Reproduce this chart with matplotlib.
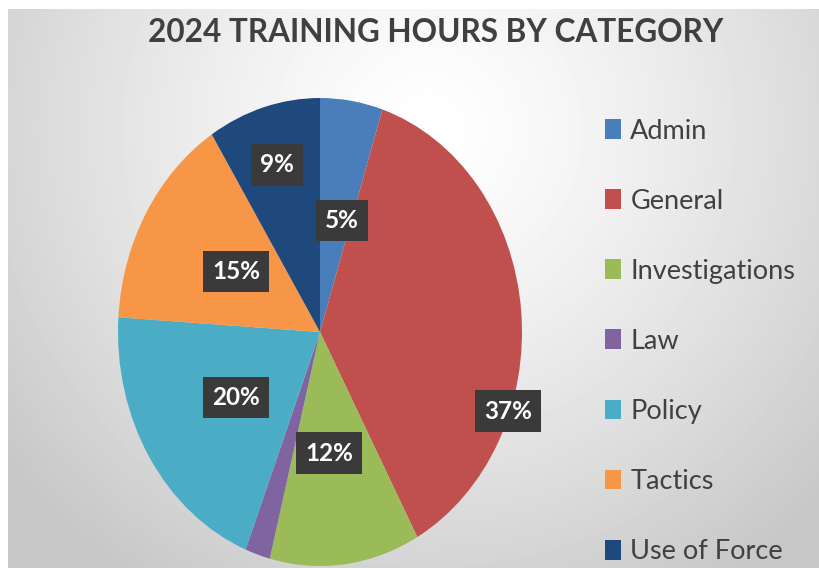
import numpy as np
import matplotlib
matplotlib.use("Agg")
import matplotlib.pyplot as plt
from matplotlib.patches import Patch

categories = ["Admin", "General", "Investigations", "Law", "Policy", "Tactics", "Use of Force"]
shares = [5, 37, 12, 2, 20, 15, 9]
colors = ["#4a7ebb", "#c0504d", "#9bbb59", "#8064a2", "#4bacc6", "#f79646", "#1f497d"]
title = "2024 TRAINING HOURS BY CATEGORY"

# label placement (radius, angle in degrees) in pie units, Excel "best fit" look
label_pos = {
    "Admin": (0.49, 77),
    "General": (0.99, -20),
    "Investigations": (0.52, 275),
    "Policy": (0.50, 214),
    "Tactics": (0.49, 148),
    "Use of Force": (0.745, 106.5),
}

FONT = ["Lato", "DejaVu Sans"]
W, H = 820, 568
fig = plt.figure(figsize=(W / 100, H / 100), dpi=100, facecolor="white")

# background gradient (white margin top/left)
bg = fig.add_axes([8 / W, 0, 1 - 8 / W, 1 - 9 / H])
bg.set_axis_off()
yy, xx = np.mgrid[0:H - 9, 0:W - 8]
d = np.sqrt(((xx - 420) / 520.0) ** 2 + ((yy - 120) / 520.0) ** 2)
shade = np.clip(1.0 - 0.21 * d ** 1.3, 0.78, 1.0)
bg.imshow(shade, cmap="gray", vmin=0, vmax=1, aspect="auto", interpolation="bilinear")

# pie, stretched into an ellipse like the original
cx, cy, rx, ry = 320, 236, 202, 234
ax = fig.add_axes([(cx - rx) / W, (cy - ry) / H, 2 * rx / W, 2 * ry / H])
wedges, _ = ax.pie(shares, colors=colors, startangle=90, counterclock=False,
                   radius=1, wedgeprops=dict(linewidth=0))
ax.set_aspect("auto")
ax.set_xlim(-1, 1)
ax.set_ylim(-1, 1)
ax.set_axis_off()

for name, val in zip(categories, shares):
    if name not in label_pos:
        continue
    r, a = label_pos[name]
    ax.text(r * np.cos(np.radians(a)), r * np.sin(np.radians(a)), f"{val}%",
            ha="center", va="center", color="white", fontsize=17.5,
            fontweight="bold", family=FONT,
            bbox=dict(boxstyle="square,pad=0.38", facecolor="#3a3a3a",
                      edgecolor="none"))

fig.text(436 / W, 1 - 33 / H, title, ha="center", va="center", fontsize=22.7,
         fontweight="bold", color="#404040", family=FONT)

handles = [Patch(facecolor=c, edgecolor="none") for c in colors]
leg = fig.legend(handles, categories, loc="upper left",
                 bbox_to_anchor=(591 / W, 1 - 105 / H), frameon=False,
                 prop=dict(family=FONT, size=19.5), labelcolor="#404040",
                 handlelength=0.6, handleheight=0.75, handletextpad=0.35,
                 labelspacing=1.665, borderpad=0)

fig.savefig("out.png", dpi=100, facecolor="white")
